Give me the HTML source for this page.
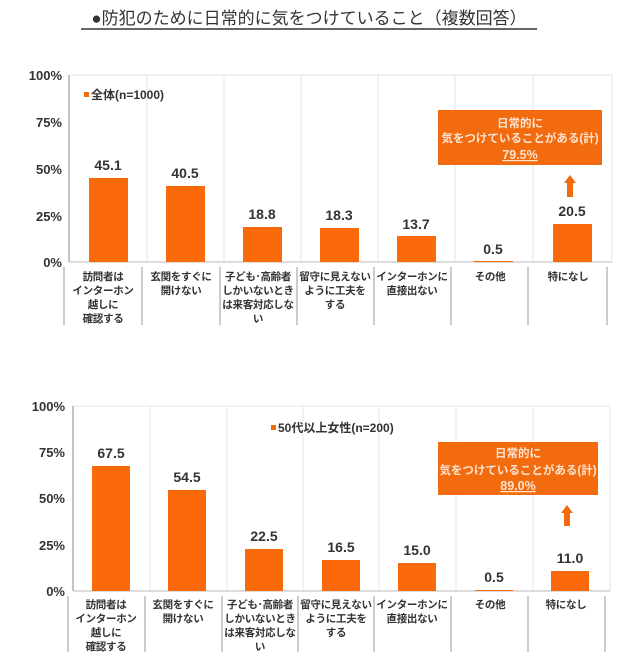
<!DOCTYPE html>
<html><head><meta charset="utf-8"><style>
html,body{margin:0;padding:0;background:#fff;}
svg{display:block;}
text{font-family:"Liberation Sans","Noto Sans CJK JP",sans-serif;}
</style></head><body>
<svg width="640" height="669" viewBox="0 0 640 669" xmlns="http://www.w3.org/2000/svg">
<text x="309" y="24" text-anchor="middle" font-size="17" fill="#333">●防犯のために日常的に気をつけていること（複数回答）</text>
<line x1="81" y1="29" x2="537" y2="29" stroke="#333" stroke-width="1.5"/>

<!-- Chart 1 -->
<g font-weight="bold">
<g stroke="#e4e4e4" stroke-width="1">
<line x1="69" y1="75" x2="612" y2="75"/>
<line x1="147" y1="75" x2="147" y2="262"/><line x1="224" y1="75" x2="224" y2="262"/>
<line x1="301" y1="75" x2="301" y2="262"/><line x1="378" y1="75" x2="378" y2="262"/>
<line x1="455" y1="75" x2="455" y2="262"/><line x1="533" y1="75" x2="533" y2="262"/>
<line x1="612" y1="75" x2="612" y2="262"/>
</g>
<line x1="69" y1="75" x2="69" y2="262" stroke="#888"/>
<line x1="69" y1="262" x2="612" y2="262" stroke="#bbb"/>
<g font-size="13" fill="#333" text-anchor="end">
<text x="62" y="80">100%</text><text x="62" y="127">75%</text><text x="62" y="174">50%</text><text x="62" y="221">25%</text><text x="62" y="267">0%</text>
</g>
<rect x="84" y="92" width="5" height="5" fill="#f26b0f"/>
<text x="91" y="99" font-size="12" fill="#333">全体(n=1000)</text>
<g fill="#fa6a0a">
<rect x="89" y="178" width="39" height="84"/>
<rect x="166" y="186" width="39" height="76"/>
<rect x="243" y="227" width="39" height="35"/>
<rect x="320" y="228" width="39" height="34"/>
<rect x="397" y="236" width="39" height="26"/>
<rect x="474" y="261" width="39" height="1"/>
<rect x="553" y="224" width="39" height="38"/>
</g>
<g font-size="14" fill="#333" text-anchor="middle">
<text x="108" y="170">45.1</text><text x="185" y="178">40.5</text><text x="262" y="219">18.8</text>
<text x="339" y="220">18.3</text><text x="416" y="229">13.7</text><text x="493" y="254">0.5</text><text x="572" y="216">20.5</text>
</g>
<rect x="438" y="110" width="164" height="55" fill="#f26b0f"/>
<g font-size="11.5" fill="#fde3cf" text-anchor="middle">
<text x="520" y="127">日常的に</text><text x="520" y="142">気をつけていることがある(計)</text>
<text x="520" y="159" font-size="12.5" text-decoration="underline">79.5%</text>
</g>
<polygon points="570,175 576,183 573,183 573,197 567,197 567,183 564,183" fill="#f26b0f"/>
<g stroke="#999"><line x1="64" y1="267" x2="64" y2="325"/><line x1="142" y1="267" x2="142" y2="325"/><line x1="220" y1="267" x2="220" y2="325"/><line x1="297" y1="267" x2="297" y2="325"/><line x1="374" y1="267" x2="374" y2="325"/><line x1="451" y1="267" x2="451" y2="325"/><line x1="528" y1="267" x2="528" y2="325"/><line x1="607" y1="267" x2="607" y2="325"/></g>
<g font-size="10.5" fill="#333" text-anchor="middle" letter-spacing="-0.3">
<text x="103" y="280">訪問者は</text><text x="103" y="294">インターホン</text><text x="103" y="308">越しに</text><text x="103" y="322">確認する</text>
<text x="181" y="280">玄関をすぐに</text><text x="181" y="294">開けない</text>
<text x="258" y="280">子ども･高齢者</text><text x="258" y="294">しかいないとき</text><text x="258" y="308">は来客対応しな</text><text x="258" y="322">い</text>
<text x="335" y="280">留守に見えない</text><text x="335" y="294">ように工夫を</text><text x="335" y="308">する</text>
<text x="412" y="280">インターホンに</text><text x="412" y="294">直接出ない</text>
<text x="490" y="280">その他</text><text x="568" y="280">特になし</text>
</g>
</g>

<!-- Chart 2 -->
<g font-weight="bold">
<g stroke="#e4e4e4" stroke-width="1">
<line x1="73" y1="406" x2="610" y2="406"/>
<line x1="150" y1="406" x2="150" y2="591"/><line x1="227" y1="406" x2="227" y2="591"/>
<line x1="303" y1="406" x2="303" y2="591"/><line x1="379" y1="406" x2="379" y2="591"/>
<line x1="456" y1="406" x2="456" y2="591"/><line x1="533" y1="406" x2="533" y2="591"/>
<line x1="610" y1="406" x2="610" y2="591"/>
</g>
<line x1="73" y1="406" x2="73" y2="591" stroke="#888"/>
<line x1="73" y1="591" x2="610" y2="591" stroke="#bbb"/>
<g font-size="13" fill="#333" text-anchor="end">
<text x="65" y="411">100%</text><text x="65" y="457">75%</text><text x="65" y="503">50%</text><text x="65" y="550">25%</text><text x="65" y="596">0%</text>
</g>
<rect x="271" y="425" width="5" height="5" fill="#f26b0f"/>
<text x="278" y="432" font-size="12" fill="#333">50代以上女性(n=200)</text>
<g fill="#fa6a0a">
<rect x="92" y="466" width="38" height="125"/>
<rect x="168" y="490" width="38" height="101"/>
<rect x="245" y="549" width="38" height="42"/>
<rect x="322" y="560" width="38" height="31"/>
<rect x="398" y="563" width="38" height="28"/>
<rect x="475" y="590" width="38" height="1"/>
<rect x="551" y="571" width="38" height="20"/>
</g>
<g font-size="14" fill="#333" text-anchor="middle">
<text x="111" y="458">67.5</text><text x="187" y="482">54.5</text><text x="264" y="541">22.5</text>
<text x="341" y="552">16.5</text><text x="417" y="555">15.0</text><text x="494" y="582">0.5</text><text x="570" y="563">11.0</text>
</g>
<rect x="438" y="442" width="160" height="53" fill="#f26b0f"/>
<g font-size="11.5" fill="#fde3cf" text-anchor="middle">
<text x="518" y="457">日常的に</text><text x="518" y="474">気をつけていることがある(計)</text>
<text x="518" y="490" font-size="12.5" text-decoration="underline">89.0%</text>
</g>
<polygon points="567,505 573,513 570,513 570,526 564,526 564,513 561,513" fill="#f26b0f"/>
<g stroke="#999"><line x1="68" y1="596" x2="68" y2="652"/><line x1="145" y1="596" x2="145" y2="652"/><line x1="222" y1="596" x2="222" y2="652"/><line x1="298" y1="596" x2="298" y2="652"/><line x1="374" y1="596" x2="374" y2="652"/><line x1="451" y1="596" x2="451" y2="652"/><line x1="528" y1="596" x2="528" y2="652"/><line x1="605" y1="596" x2="605" y2="652"/></g>
<g font-size="10.5" fill="#333" text-anchor="middle" letter-spacing="-0.3">
<text x="106" y="608">訪問者は</text><text x="106" y="622">インターホン</text><text x="106" y="636">越しに</text><text x="106" y="650">確認する</text>
<text x="183" y="608">玄関をすぐに</text><text x="183" y="622">開けない</text>
<text x="260" y="608">子ども･高齢者</text><text x="260" y="622">しかいないとき</text><text x="260" y="636">は来客対応しな</text><text x="260" y="650">い</text>
<text x="336" y="608">留守に見えない</text><text x="336" y="622">ように工夫を</text><text x="336" y="636">する</text>
<text x="412" y="608">インターホンに</text><text x="412" y="622">直接出ない</text>
<text x="490" y="608">その他</text><text x="566" y="608">特になし</text>
</g>
</g>
</svg>
</body></html>
